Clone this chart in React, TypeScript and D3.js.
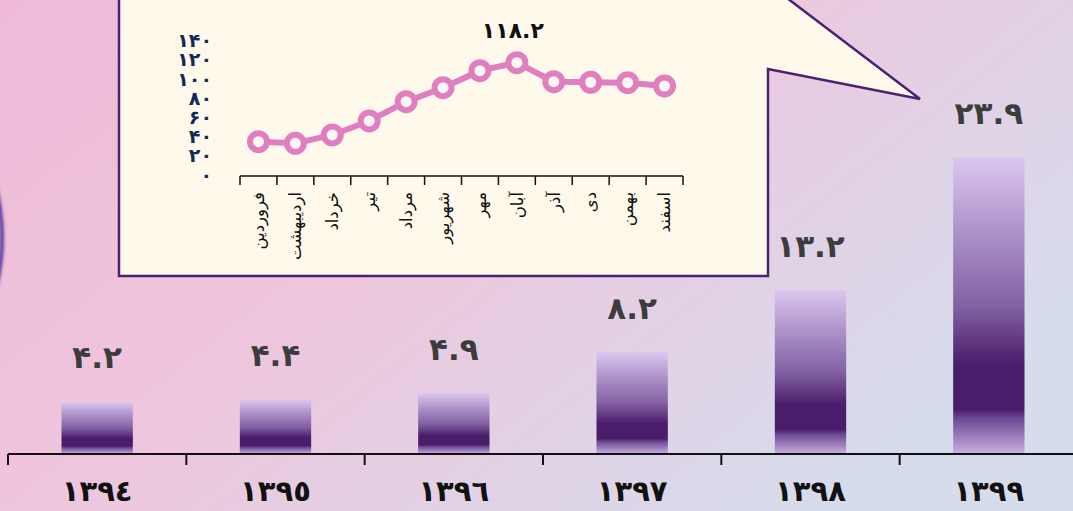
import React from 'react';
import * as d3 from 'd3';

// سال‌ها و مقادیر نمودار اصلی
const years = ['١٣٩٤', '١٣٩٥', '١٣٩٦', '١٣٩٧', '١٣٩٨', '١٣٩٩'];
const yearValues = [4.2, 4.4, 4.9, 8.2, 13.2, 23.9];
const yearLabels = ['۴.۲', '۴.۴', '۴.۹', '۸.۲', '۱۳.۲', '۲۳.۹'];

// ماه‌های سال ۱۳۹۹ (نمودار داخلی)
const months = ['فروردین', 'اردیبهشت', 'خرداد', 'تیر', 'مرداد', 'شهریور', 'مهر', 'آبان', 'آذر', 'دی', 'بهمن', 'اسفند'];
const monthValues = [35.8, 34.1, 42.8, 57.4, 77.5, 92.1, 109.9, 118.2, 98.4, 97.8, 97.3, 93.9];
const monthTicks = [0, 20, 40, 60, 80, 100, 120, 140];
const monthTickLabels = ['۰', '۲۰', '۴۰', '۶۰', '۸۰', '۱۰۰', '۱۲۰', '۱۴۰'];
const peakLabel = '۱۱۸.۲';

const W = 1073;
const H = 511;
const FONT = '"DejaVu Sans", sans-serif';

const App: React.FC = () => {
  // محورهای نمودار اصلی
  const x = d3.scaleBand<string>().domain(years).range([8, 1078]).paddingInner(0.6).paddingOuter(0.3);
  const y = d3.scaleLinear().domain([0, 24]).range([454, 156]);
  const step = x.step();
  const baseY = y(0);

  // محورهای نمودار داخلی
  const mx = d3.scaleBand<string>().domain(months).range([240, 683]);
  const my = d3.scaleLinear().domain([0, 140]).range([176, 41.8]);
  const line = d3
    .line<number>()
    .x((_, i) => mx(months[i])! + mx.bandwidth() / 2)
    .y((d) => my(d));
  const peakIdx = monthValues.indexOf(d3.max(monthValues)!);

  const callout = [
    [119, -5],
    [783, -5],
    [920, 99],
    [768, 69],
    [768, 276],
    [119, 276],
  ];

  return (
    <svg
      width={W}
      height={H}
      style={{ position: 'fixed', left: 0, top: 0, display: 'block' }}
      fontFamily={FONT}
    >
      <defs>
        <linearGradient id="bg" x1="0" y1="0" x2="1" y2="0.6">
          <stop offset="0" stopColor="#eebad8" />
          <stop offset="0.45" stopColor="#efc5dc" />
          <stop offset="1" stopColor="#d6dcec" />
        </linearGradient>
        <linearGradient id="bar" x1="0" y1="0" x2="0" y2="1">
          <stop offset="0" stopColor="#dcc7f0" />
          <stop offset="0.25" stopColor="#ad92ca" />
          <stop offset="0.5" stopColor="#8361a3" />
          <stop offset="0.7" stopColor="#4a1d6a" />
          <stop offset="0.85" stopColor="#4a1d6a" />
          <stop offset="0.88" stopColor="#6d4892" />
          <stop offset="1" stopColor="#cbb0e4" />
        </linearGradient>
        <filter id="blur" x="-50%" y="-50%" width="200%" height="200%">
          <feGaussianBlur stdDeviation="1.4" />
        </filter>
      </defs>

      <rect width={W} height={H} fill="url(#bg)" />
      <circle cx={-200} cy={238} r={202} fill="none" stroke="#5a3ba0" strokeWidth={4} filter="url(#blur)" />

      {/* ستون‌ها */}
      {years.map((yr, i) => (
        <g key={yr}>
          <rect
            x={x(yr)}
            y={y(yearValues[i])}
            width={x.bandwidth()}
            height={baseY - y(yearValues[i])}
            fill="url(#bar)"
          />
          <text
            x={x(yr)! + x.bandwidth() / 2}
            y={y(yearValues[i]) - 42}
            textAnchor="middle"
            dominantBaseline="middle"
            fontSize={31}
            fontWeight="bold"
            fill="#3c3c3c"
          >
            {yearLabels[i]}
          </text>
          <text
            x={x(yr)! + x.bandwidth() / 2}
            y={501}
            textAnchor="middle"
            fontSize={29}
            fontWeight="bold"
            fill="#111"
          >
            {yr}
          </text>
        </g>
      ))}

      {/* محور افقی */}
      <line x1={8} x2={W} y1={baseY} y2={baseY} stroke="#111" strokeWidth={2} />
      {d3.range(years.length + 1).map((i) => (
        <line key={i} x1={8 + i * step} x2={8 + i * step} y1={baseY} y2={baseY + 11} stroke="#111" strokeWidth={2} />
      ))}

      {/* کادر توضیح */}
      <polygon
        points={callout.map((p) => p.join(',')).join(' ')}
        fill="#fff9ec"
        stroke="#4b2272"
        strokeWidth={2.5}
      />

      {/* محور عمودی داخلی */}
      {monthTicks.map((t, i) => (
        <text
          key={t}
          x={212}
          y={my(t)}
          textAnchor="end"
          dominantBaseline="middle"
          fontSize={19}
          fontWeight="bold"
          fill="#10285a"
        >
          {monthTickLabels[i]}
        </text>
      ))}

      {/* محور افقی داخلی */}
      <line x1={240} x2={683} y1={176} y2={176} stroke="#111" strokeWidth={1.5} />
      {d3.range(months.length + 1).map((i) => (
        <line
          key={i}
          x1={240 + i * mx.step()}
          x2={240 + i * mx.step()}
          y1={176}
          y2={185}
          stroke="#111"
          strokeWidth={1.5}
        />
      ))}
      {months.map((m) => (
        <text
          key={m}
          transform={`translate(${mx(m)! + mx.bandwidth() / 2},192) rotate(-90)`}
          textAnchor="end"
          dy="0.35em"
          fontSize={16.5}
          fill="#111"
        >
          {m}
        </text>
      ))}

      {/* خط ماهانه */}
      <path d={line(monthValues)!} fill="none" stroke="#e07fc0" strokeWidth={6} />
      {monthValues.map((v, i) => (
        <circle
          key={i}
          cx={mx(months[i])! + mx.bandwidth() / 2}
          cy={my(v)}
          r={8.5}
          fill="#fdf6f4"
          stroke="#e07fc0"
          strokeWidth={6}
        />
      ))}
      <text
        x={mx(months[peakIdx])! + mx.bandwidth() / 2 - 4}
        y={32}
        textAnchor="middle"
        dominantBaseline="middle"
        fontSize={22}
        fontWeight="bold"
        fill="#111"
      >
        {peakLabel}
      </text>
    </svg>
  );
};

export default App;
